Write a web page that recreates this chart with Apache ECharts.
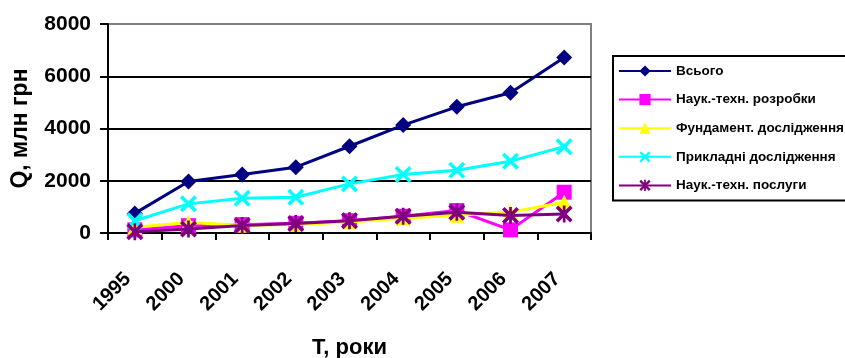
<!DOCTYPE html>
<html>
<head>
<meta charset="utf-8">
<script src="https://cdn.jsdelivr.net/npm/echarts@6/dist/echarts.min.js"></script>
<style>html,body{margin:0;padding:0;background:#fff;}#c{width:845px;height:358px;}</style>
</head>
<body>
<div id="c"></div>
<script>
const years = ['1995','2000','2001','2002','2003','2004','2005','2006','2007'];
const yTicks = [0, 2000, 4000, 6000, 8000];
const names = ['Всього','Наук.-техн. розробки','Фундамент. дослідження','Прикладні дослідження','Наук.-техн. послуги'];
const total = [750, 1970, 2240, 2520, 3320, 4130, 4830, 5370, 6720];
const rozrobky = [120, 280, 320, 370, 470, 640, 860, 120, 1560];
const fundament = [220, 400, 300, 330, 420, 560, 680, 800, 1180];
const prykladni = [470, 1115, 1330, 1370, 1880, 2240, 2400, 2750, 3300];
const posluhy = [50, 150, 290, 360, 470, 640, 790, 670, 730];

const FONT = 'Arial, "Liberation Sans", sans-serif';
const xSym = 'path://M3,0 L10,7 L17,0 L20,3 L13,10 L20,17 L17,20 L10,13 L3,20 L0,17 L7,10 L0,3 Z';
const starSym = 'path://M3,0 L10,7 L17,0 L20,3 L13,10 L20,17 L17,20 L10,13 L3,20 L0,17 L7,10 L0,3 Z M8.4,0 L11.6,0 L11.6,20 L8.4,20 Z';

const specs = [
  {data: total, color: '#000080', symbol: 'diamond', size: 16},
  {data: rozrobky, color: '#FF00FF', symbol: 'rect', size: 15},
  {data: fundament, color: '#FFFF00', symbol: 'triangle', size: 15},
  {data: prykladni, color: '#00FFFF', symbol: xSym, size: 17},
  {data: posluhy, color: '#800080', symbol: starSym, size: 17}
];

const chart = echarts.init(document.getElementById('c'), null, {renderer: 'canvas'});
chart.setOption({
  animation: false,
  backgroundColor: '#fff',
  grid: {left: 108, right: 254, top: 24, bottom: 125, show: true, borderColor: '#808080', borderWidth: 2, backgroundColor: 'transparent', containLabel: false, outerBoundsMode: 'none'},
  legend: {
    left: 613, top: 56, orient: 'vertical',
    data: names,
    itemWidth: 52, itemHeight: 14, itemGap: 14.6,
    padding: [8, 40, 8, 5],
    borderColor: '#000', borderWidth: 2,
    textStyle: {fontFamily: FONT, fontWeight: 'bold', fontSize: 13.5, color: '#000', lineHeight: 14}
  },
  xAxis: {
    type: 'category', data: years, boundaryGap: true,
    name: 'Т, роки', nameLocation: 'middle', nameGap: 104,
    nameTextStyle: {fontFamily: FONT, fontWeight: 'bold', fontSize: 22, color: '#000'},
    axisLine: {lineStyle: {color: '#000', width: 2}},
    axisTick: {show: true, length: 7, lineStyle: {color: '#000', width: 2}},
    axisLabel: {rotate: 45, margin: 36, padding: [0, 10, 0, 0], fontFamily: FONT, fontWeight: 'bold', fontSize: 20, color: '#000'},
    splitLine: {show: false}
  },
  yAxis: {
    type: 'value', min: yTicks[0], max: yTicks[yTicks.length - 1], interval: yTicks[1] - yTicks[0],
    name: 'Q, млн грн', nameLocation: 'middle', nameGap: 76, nameRotate: 90,
    nameTextStyle: {fontFamily: FONT, fontWeight: 'bold', fontSize: 23, color: '#000'},
    axisLine: {show: true, lineStyle: {color: '#000', width: 2}},
    axisTick: {show: true, length: 8, lineStyle: {color: '#000', width: 2}},
    axisLabel: {margin: 17, fontFamily: FONT, fontWeight: 'bold', fontSize: 21, color: '#000', formatter: v => String(v)},
    splitLine: {show: true, showMaxLine: false, lineStyle: {color: '#000', width: 2}}
  },
  series: specs.map((s, i) => ({
    name: names[i], type: 'line', data: s.data,
    symbol: s.symbol, symbolSize: s.size, showSymbol: true,
    lineStyle: {color: s.color, width: 3},
    itemStyle: {color: s.color, borderWidth: 0},
    z: 2 + i
  }))
});
</script>
</body>
</html>
